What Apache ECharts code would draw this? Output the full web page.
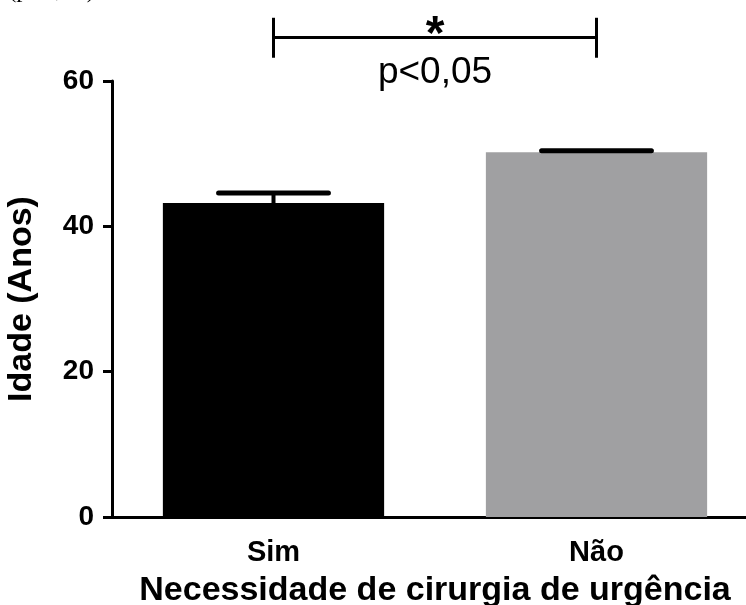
<!DOCTYPE html>
<html>
<head>
<meta charset="utf-8">
<script src="https://cdn.jsdelivr.net/npm/echarts@6/dist/echarts.min.js"></script>
<style>
  html, body { margin: 0; padding: 0; background: #fff; }
  #chart { width: 746px; height: 605px; }
</style>
</head>
<body>
<div id="chart"></div>
<script>
// Age by need for urgent surgery: mean with upward SEM whisker
const categories = ['Sim', 'Não'];
const meanAge = [43.2, 50.2];
const semAge = [1.4, 0.2];
const barColors = ['#000000', '#a0a0a2'];
const yTicks = [0, 20, 40, 60];
const pText = 'p<0,05';
const starText = '*';

const FONT = '"Liberation Sans", Arial, Helvetica, sans-serif';

const chart = echarts.init(document.getElementById('chart'), null, { renderer: 'canvas' });

// Upward-only error whisker with a wide flat cap
function renderWhisker(params, api) {
  const x = api.value(0);
  const top = api.coord([x, api.value(1) + api.value(2)]);
  const base = api.coord([x, api.value(1)]);
  const band = api.size([1, 0])[0];
  const half = band * 0.17;
  return {
    type: 'group',
    children: [
      { type: 'line', shape: { x1: base[0], y1: base[1], x2: top[0], y2: top[1] },
        style: { stroke: '#000', lineWidth: 4 } },
      { type: 'line', shape: { x1: top[0] - half, y1: top[1], x2: top[0] + half, y2: top[1] },
        style: { stroke: '#000', lineWidth: 5, lineCap: 'round' } }
    ]
  };
}

// Significance bracket between the two groups
function renderBracket(params, api) {
  const a = api.coord([0, 66]);
  const b = api.coord([1, 66]);
  const up = api.coord([0, 68.7])[1];
  const down = api.coord([0, 63.2])[1];
  const midX = (a[0] + b[0]) / 2;
  return {
    type: 'group',
    children: [
      { type: 'line', shape: { x1: a[0], y1: a[1], x2: b[0], y2: b[1] }, style: { stroke: '#000', lineWidth: 3 } },
      { type: 'line', shape: { x1: a[0], y1: up, x2: a[0], y2: down }, style: { stroke: '#000', lineWidth: 3 } },
      { type: 'line', shape: { x1: b[0], y1: up, x2: b[0], y2: down }, style: { stroke: '#000', lineWidth: 3 } },
      { type: 'text', x: midX, y: a[1] + 22,
        style: { text: starText, font: 'bold 48px ' + FONT, fill: '#000', textAlign: 'center', textVerticalAlign: 'bottom' } },
      { type: 'text', x: midX, y: a[1] + 17,
        style: { text: pText, font: '37px ' + FONT, fill: '#000', textAlign: 'center', textVerticalAlign: 'top' } }
    ]
  };
}

chart.setOption({
  animation: false,
  backgroundColor: '#fff',
  grid: { left: 112, right: -12, top: 81, bottom: 88, containLabel: false, outerBoundsMode: 'none' },
  xAxis: {
    type: 'category',
    data: categories,
    name: 'Necessidade de cirurgia de urgência',
    nameLocation: 'middle',
    nameGap: 57,
    nameTextStyle: { fontFamily: FONT, fontWeight: 'bold', fontSize: 34, color: '#000' },
    axisLine: { lineStyle: { color: '#000', width: 3 } },
    axisTick: { alignWithLabel: true, length: 12, lineStyle: { color: '#000', width: 3 } },
    axisLabel: { fontFamily: FONT, fontWeight: 'bold', fontSize: 29, color: '#000', margin: 21 }
  },
  yAxis: {
    type: 'value',
    min: yTicks[0],
    max: yTicks[yTicks.length - 1],
    interval: yTicks[1] - yTicks[0],
    name: 'Idade (Anos)',
    nameLocation: 'middle',
    nameGap: 73,
    nameTextStyle: { fontFamily: FONT, fontWeight: 'bold', fontSize: 34, color: '#000' },
    axisLine: { show: true, lineStyle: { color: '#000', width: 3 } },
    axisTick: { show: true, length: 9, lineStyle: { color: '#000', width: 3 } },
    axisLabel: { fontFamily: FONT, fontWeight: 'bold', fontSize: 28, color: '#000', margin: 18 },
    splitLine: { show: false }
  },
  series: [
    {
      type: 'bar',
      barWidth: '68.5%',
      data: meanAge.map((v, i) => ({ value: v, itemStyle: { color: barColors[i] } })),
      z: 2
    },
    {
      type: 'custom',
      renderItem: renderWhisker,
      data: meanAge.map((v, i) => [i, v, semAge[i]]),
      z: 3
    },
    {
      type: 'custom',
      renderItem: renderBracket,
      clip: false,
      data: [[0, 66]],
      z: 4
    }
  ],
  graphic: [
    {
      type: 'text', left: 8, top: -22,
      style: { text: '(p<0,05)', font: '25px "Liberation Serif", "Times New Roman", serif', fill: '#000' }
    }
  ]
});
</script>
</body>
</html>
